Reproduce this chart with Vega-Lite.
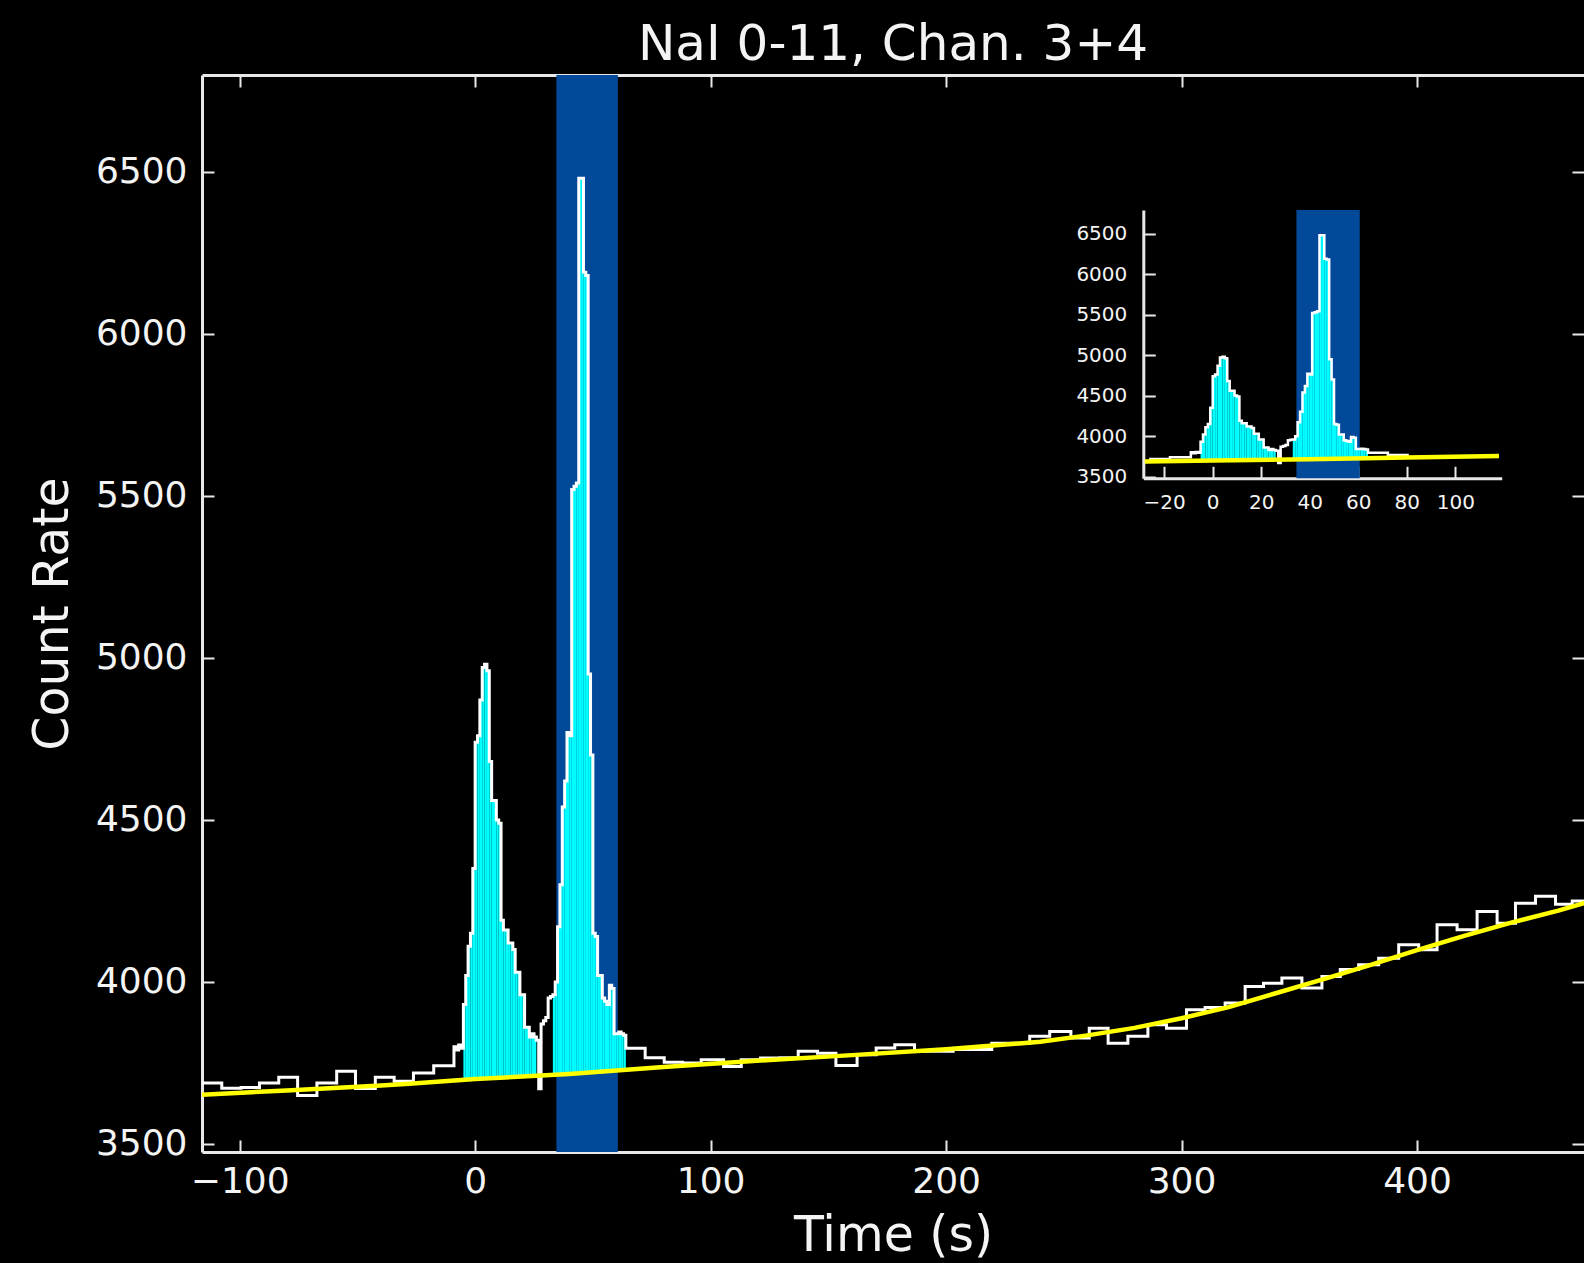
{
  "$schema": "https://vega.github.io/schema/vega-lite/v6.json",
  "width": 1382,
  "height": 1077,
  "autosize": {"type": "none"},
  "padding": {"left": 202, "top": 75, "right": 0, "bottom": 111},
  "background": "#000000",
  "title": {
    "text": "NaI 0-11, Chan. 3+4",
    "font": "DejaVu Sans",
    "fontSize": 50,
    "fontWeight": "normal",
    "color": "#f4f4f4",
    "anchor": "middle",
    "baseline": "bottom",
    "offset": 3,
    "dy": 49
  },
  "config": {
    "view": {"stroke": null},
    "axis": {
      "grid": false,
      "domainColor": "#e8e8e8",
      "domainWidth": 3,
      "tickColor": "#e8e8e8",
      "tickWidth": 2,
      "tickSize": -12,
      "labelColor": "#f4f4f4",
      "labelFont": "DejaVu Sans",
      "titleFont": "DejaVu Sans",
      "titleColor": "#f4f4f4",
      "titleFontWeight": "normal",
      "labelFlush": false,
      "labelOverlap": false,
      "format": "d",
      "zindex": 1
    }
  },
  "datasets": {
    "window": [{"start": 34.5, "end": 60.6}],
    "counts": [
      {"t": -116, "rate": 3688}, {"t": -107.6, "rate": 3672}, {"t": -99.4, "rate": 3674},
      {"t": -91.6, "rate": 3688}, {"t": -83.4, "rate": 3706}, {"t": -75.4, "rate": 3649},
      {"t": -67.2, "rate": 3688}, {"t": -58.8, "rate": 3724}, {"t": -50.8, "rate": 3671},
      {"t": -42.4, "rate": 3706}, {"t": -34.4, "rate": 3693}, {"t": -26.2, "rate": 3719},
      {"t": -17.6, "rate": 3741},
      {"t": -9, "rate": 3800}, {"t": -8, "rate": 3790}, {"t": -7, "rate": 3805}, {"t": -6, "rate": 3795},
      {"t": -5, "rate": 3930, "bkg": 3698}, {"t": -4, "rate": 4020, "bkg": 3698},
      {"t": -3, "rate": 4110, "bkg": 3699}, {"t": -2, "rate": 4150, "bkg": 3699},
      {"t": -1, "rate": 4350, "bkg": 3700}, {"t": 0, "rate": 4740, "bkg": 3700},
      {"t": 1, "rate": 4760, "bkg": 3700}, {"t": 2, "rate": 4870, "bkg": 3701},
      {"t": 3, "rate": 4970, "bkg": 3701}, {"t": 4, "rate": 4980, "bkg": 3702},
      {"t": 5, "rate": 4960, "bkg": 3702}, {"t": 6, "rate": 4680, "bkg": 3703},
      {"t": 7, "rate": 4560, "bkg": 3703}, {"t": 8, "rate": 4560, "bkg": 3703},
      {"t": 9, "rate": 4500, "bkg": 3704}, {"t": 10, "rate": 4490, "bkg": 3704},
      {"t": 11, "rate": 4190, "bkg": 3705}, {"t": 12, "rate": 4160, "bkg": 3705},
      {"t": 13, "rate": 4160, "bkg": 3705}, {"t": 14, "rate": 4120, "bkg": 3706},
      {"t": 15, "rate": 4120, "bkg": 3706}, {"t": 16, "rate": 4100, "bkg": 3707},
      {"t": 17, "rate": 4030, "bkg": 3707}, {"t": 18, "rate": 4030, "bkg": 3707},
      {"t": 19, "rate": 3960, "bkg": 3708}, {"t": 20, "rate": 3960, "bkg": 3708},
      {"t": 21, "rate": 3860, "bkg": 3709}, {"t": 22, "rate": 3860, "bkg": 3709},
      {"t": 23, "rate": 3830, "bkg": 3709}, {"t": 24, "rate": 3840, "bkg": 3710},
      {"t": 25, "rate": 3830, "bkg": 3710},
      {"t": 26, "rate": 3820}, {"t": 27, "rate": 3670}, {"t": 28, "rate": 3870},
      {"t": 29, "rate": 3880}, {"t": 30, "rate": 3890}, {"t": 31, "rate": 3950},
      {"t": 32, "rate": 3955},
      {"t": 33, "rate": 3960, "bkg": 3713}, {"t": 34, "rate": 4000, "bkg": 3714},
      {"t": 35, "rate": 4170, "bkg": 3714}, {"t": 36, "rate": 4300, "bkg": 3714},
      {"t": 37, "rate": 4540, "bkg": 3715}, {"t": 38, "rate": 4620, "bkg": 3715},
      {"t": 39, "rate": 4770, "bkg": 3716}, {"t": 40, "rate": 4760, "bkg": 3716},
      {"t": 41, "rate": 5520, "bkg": 3716}, {"t": 42, "rate": 5530, "bkg": 3717},
      {"t": 43, "rate": 5540, "bkg": 3717}, {"t": 44, "rate": 6480, "bkg": 3718},
      {"t": 45, "rate": 6480, "bkg": 3718}, {"t": 46, "rate": 6190, "bkg": 3718},
      {"t": 47, "rate": 6180, "bkg": 3719}, {"t": 48, "rate": 4950, "bkg": 3719},
      {"t": 49, "rate": 4700, "bkg": 3720}, {"t": 50, "rate": 4150, "bkg": 3720},
      {"t": 51, "rate": 4140, "bkg": 3720}, {"t": 52, "rate": 4020, "bkg": 3721},
      {"t": 53, "rate": 4020, "bkg": 3721}, {"t": 54, "rate": 3950, "bkg": 3722},
      {"t": 55, "rate": 3940, "bkg": 3722}, {"t": 56, "rate": 3930, "bkg": 3722},
      {"t": 57, "rate": 3990, "bkg": 3723}, {"t": 58, "rate": 3980, "bkg": 3723},
      {"t": 59, "rate": 3840, "bkg": 3724}, {"t": 60, "rate": 3840, "bkg": 3724},
      {"t": 61, "rate": 3845, "bkg": 3724}, {"t": 62, "rate": 3840, "bkg": 3725},
      {"t": 63, "rate": 3835, "bkg": 3725},
      {"t": 64, "rate": 3795}, {"t": 72.2, "rate": 3766}, {"t": 80.3, "rate": 3752},
      {"t": 88.1, "rate": 3750}, {"t": 96, "rate": 3760}, {"t": 105.5, "rate": 3739},
      {"t": 113, "rate": 3760}, {"t": 121.2, "rate": 3765}, {"t": 129.4, "rate": 3766},
      {"t": 137.2, "rate": 3786}, {"t": 145.4, "rate": 3780}, {"t": 153.2, "rate": 3742},
      {"t": 162.2, "rate": 3775}, {"t": 170.3, "rate": 3796}, {"t": 178.2, "rate": 3806},
      {"t": 186.6, "rate": 3786}, {"t": 194.8, "rate": 3786}, {"t": 203, "rate": 3791},
      {"t": 211.2, "rate": 3791}, {"t": 219.4, "rate": 3811}, {"t": 227.6, "rate": 3811},
      {"t": 235.5, "rate": 3832}, {"t": 244, "rate": 3847}, {"t": 253, "rate": 3827},
      {"t": 260.8, "rate": 3857}, {"t": 268.8, "rate": 3811}, {"t": 277.2, "rate": 3832},
      {"t": 285.7, "rate": 3868}, {"t": 293.6, "rate": 3857}, {"t": 302.1, "rate": 3914},
      {"t": 310, "rate": 3921}, {"t": 318.5, "rate": 3935}, {"t": 327, "rate": 3986},
      {"t": 334.8, "rate": 3996}, {"t": 342.6, "rate": 4012}, {"t": 351.1, "rate": 3981},
      {"t": 359.6, "rate": 4017}, {"t": 367.4, "rate": 4038}, {"t": 375.2, "rate": 4053},
      {"t": 383.7, "rate": 4073}, {"t": 392.2, "rate": 4115}, {"t": 400.7, "rate": 4099},
      {"t": 408.5, "rate": 4176}, {"t": 417, "rate": 4161}, {"t": 425.5, "rate": 4217},
      {"t": 434, "rate": 4181}, {"t": 441.8, "rate": 4243}, {"t": 450.3, "rate": 4264},
      {"t": 458.8, "rate": 4240}, {"t": 465.9, "rate": 4250}, {"t": 474, "rate": 4250}
    ],
    "background": [
      {"t": -116, "rate": 3652}, {"t": -80, "rate": 3665}, {"t": -40, "rate": 3680},
      {"t": -28, "rate": 3686}, {"t": 0, "rate": 3700}, {"t": 40, "rate": 3716},
      {"t": 80, "rate": 3737}, {"t": 118, "rate": 3756}, {"t": 160, "rate": 3774},
      {"t": 200, "rate": 3792}, {"t": 240, "rate": 3815}, {"t": 260, "rate": 3835},
      {"t": 280, "rate": 3858}, {"t": 300, "rate": 3888}, {"t": 320, "rate": 3922},
      {"t": 340, "rate": 3965}, {"t": 360, "rate": 4008}, {"t": 380, "rate": 4052},
      {"t": 400, "rate": 4098}, {"t": 420, "rate": 4142}, {"t": 440, "rate": 4183},
      {"t": 460, "rate": 4220}, {"t": 475, "rate": 4252}
    ]
  },
  "layer": [
    {
      "data": {"name": "window"},
      "mark": {"type": "rect", "color": "#02499a"},
      "encoding": {
        "x": {
          "field": "start", "type": "quantitative",
          "scale": {"domain": [-116, 470.9], "nice": false, "zero": false},
          "axis": {
            "orient": "bottom", "values": [-100, 0, 100, 200, 300, 400],
            "labelFontSize": 36, "labelPadding": 24.5,
            "title": "Time (s)", "titleFontSize": 49, "titlePadding": 12
          }
        },
        "x2": {"field": "end"}
      }
    },
    {
      "data": {"name": "counts"},
      "transform": [
        {"window": [{"op": "lead", "field": "t", "as": "t_next"}], "sort": [{"field": "t", "order": "ascending"}]},
        {"filter": "isValid(datum.bkg)"}
      ],
      "mark": {"type": "rect", "color": "#00ffff", "clip": true},
      "encoding": {
        "x": {
          "field": "t", "type": "quantitative",
          "scale": {"domain": [-116, 470.9], "nice": false, "zero": false},
          "axis": {"orient": "top", "values": [-100, 0, 100, 200, 300, 400], "labels": false, "title": null}
        },
        "x2": {"field": "t_next"},
        "y": {
          "field": "rate", "type": "quantitative",
          "scale": {"domain": [3475, 6799], "nice": false, "zero": false},
          "axis": {
            "orient": "left", "values": [3500, 4000, 4500, 5000, 5500, 6000, 6500],
            "labelFontSize": 36, "labelPadding": 27,
            "title": "Count Rate", "titleFontSize": 49, "titlePadding": 18
          }
        },
        "y2": {"field": "bkg"}
      }
    },
    {
      "data": {"name": "counts"},
      "mark": {"type": "line", "color": "#ffffff", "strokeWidth": 3, "interpolate": "step-after", "clip": true},
      "encoding": {
        "x": {
          "field": "t", "type": "quantitative",
          "scale": {"domain": [-116, 470.9], "nice": false, "zero": false},
          "axis": null
        },
        "y": {
          "field": "rate", "type": "quantitative",
          "scale": {"domain": [3475, 6799], "nice": false, "zero": false},
          "axis": {"orient": "right", "values": [3500, 4000, 4500, 5000, 5500, 6000, 6500], "labels": false, "domain": false, "title": null}
        }
      }
    },
    {
      "data": {"name": "background"},
      "mark": {"type": "line", "color": "#ffff00", "strokeWidth": 4.5, "clip": true},
      "encoding": {
        "x": {
          "field": "t", "type": "quantitative",
          "scale": {"domain": [-116, 470.9], "nice": false, "zero": false},
          "axis": null
        },
        "y": {
          "field": "rate", "type": "quantitative",
          "scale": {"domain": [3475, 6799], "nice": false, "zero": false},
          "axis": null
        }
      }
    },
    {
      "data": {"name": "window"},
      "mark": {"type": "rect", "color": "#02499a"},
      "encoding": {
        "x": {
          "field": "start", "type": "quantitative",
          "scale": {"domain": [-28.6, 119.1], "range": [941.3, 1299.7], "nice": false, "zero": false},
          "axis": {
            "orient": "bottom", "offset": -673.7, "values": [-20, 0, 20, 40, 60, 80, 100],
            "labelFontSize": 20, "labelPadding": 26.5, "title": null
          }
        },
        "x2": {"field": "end"},
        "y": {
          "datum": 6790, "type": "quantitative",
          "scale": {"domain": [3480, 6790], "range": [403.3, 135], "nice": false, "zero": false},
          "axis": {
            "orient": "left", "offset": -941.3, "values": [3500, 4000, 4500, 5000, 5500, 6000, 6500],
            "labelFontSize": 20, "labelPadding": 28.5, "title": null
          }
        },
        "y2": {"datum": 3480}
      }
    },
    {
      "data": {"name": "counts"},
      "transform": [
        {"window": [{"op": "lead", "field": "t", "as": "t_next"}], "sort": [{"field": "t", "order": "ascending"}]},
        {"filter": "isValid(datum.bkg)"}
      ],
      "mark": {"type": "rect", "color": "#00ffff"},
      "encoding": {
        "x": {
          "field": "t", "type": "quantitative",
          "scale": {"domain": [-28.6, 119.1], "range": [941.3, 1299.7], "nice": false, "zero": false},
          "axis": null
        },
        "x2": {"field": "t_next"},
        "y": {
          "field": "rate", "type": "quantitative",
          "scale": {"domain": [3480, 6790], "range": [403.3, 135], "nice": false, "zero": false},
          "axis": null
        },
        "y2": {"field": "bkg"}
      }
    },
    {
      "data": {"name": "counts"},
      "transform": [{"filter": "datum.t >= -27 && datum.t <= 81"}],
      "mark": {"type": "line", "color": "#ffffff", "strokeWidth": 2.5, "interpolate": "step-after"},
      "encoding": {
        "x": {
          "field": "t", "type": "quantitative",
          "scale": {"domain": [-28.6, 119.1], "range": [941.3, 1299.7], "nice": false, "zero": false},
          "axis": null
        },
        "y": {
          "field": "rate", "type": "quantitative",
          "scale": {"domain": [3480, 6790], "range": [403.3, 135], "nice": false, "zero": false},
          "axis": null
        }
      }
    },
    {
      "data": {"name": "background"},
      "transform": [{"filter": "datum.t >= -29 && datum.t <= 120"}],
      "mark": {"type": "line", "color": "#ffff00", "strokeWidth": 4.5},
      "encoding": {
        "x": {
          "field": "t", "type": "quantitative",
          "scale": {"domain": [-28.6, 119.1], "range": [941.3, 1299.7], "nice": false, "zero": false},
          "axis": null
        },
        "y": {
          "field": "rate", "type": "quantitative",
          "scale": {"domain": [3480, 6790], "range": [403.3, 135], "nice": false, "zero": false},
          "axis": null
        }
      }
    }
  ],
  "resolve": {
    "scale": {"x": "independent", "y": "independent"},
    "axis": {"x": "independent", "y": "independent"}
  }
}
